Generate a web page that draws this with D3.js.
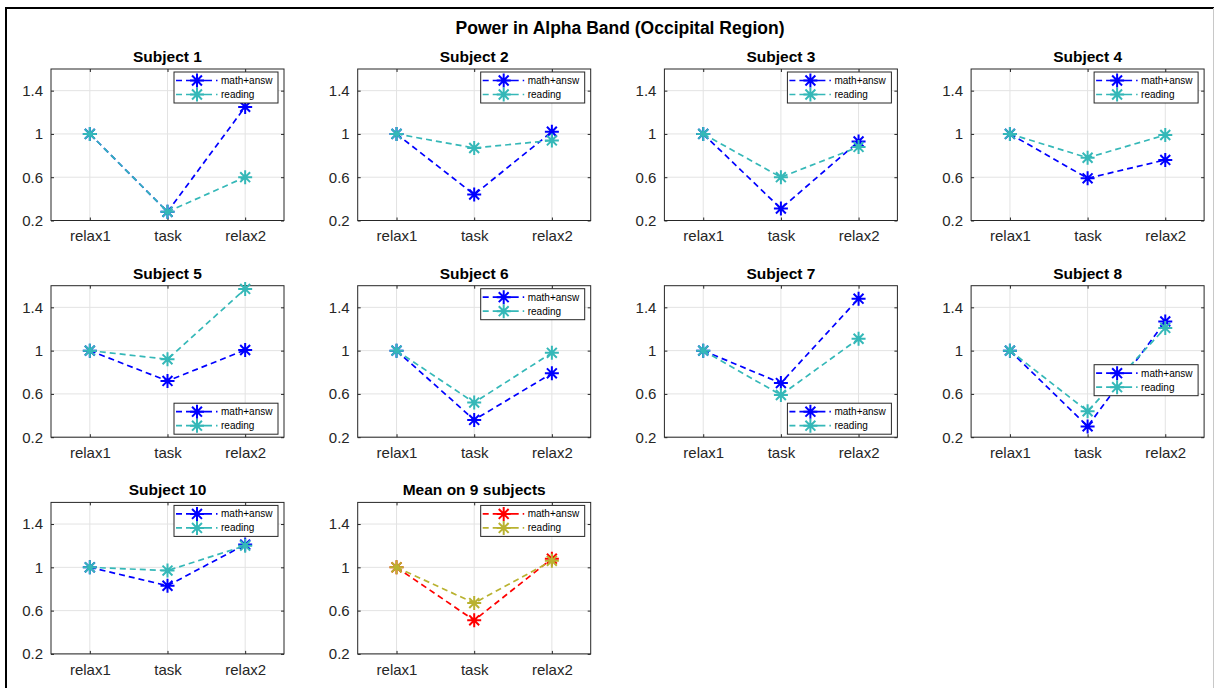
<!DOCTYPE html>
<html>
<head>
<meta charset="utf-8">
<script src="https://cdn.jsdelivr.net/npm/d3@7"></script>
<style>
  html, body { margin: 0; padding: 0; background: #fff; }
  svg { display: block; font-family: Arial, "Liberation Sans", Helvetica, sans-serif; }
</style>
</head>
<body>
<svg id="chart" width="1214" height="688"></svg>
<script>
// ---------------- data ----------------
const mainTitle = "Power in Alpha Band (Occipital Region)";
const categories = ["relax1", "task", "relax2"];
const yTicks = [0.2, 0.6, 1, 1.4];
const yDomain = [0.2, 1.6];
const panelTitles = ["Subject 1", "Subject 2", "Subject 3", "Subject 4", "Subject 5",
                     "Subject 6", "Subject 7", "Subject 8", "Subject 10", "Mean on 9 subjects"];
const seriesNames = ["math+answ", "reading"];
const mathAnsw = [
  [1, 0.28, 1.25],
  [1, 0.44, 1.02],
  [1, 0.31, 0.93],
  [1, 0.59, 0.76],
  [1, 0.72, 1.006],
  [1, 0.36, 0.79],
  [1, 0.70, 1.48],
  [1, 0.30, 1.27],
  [1, 0.83, 1.21],
  [1, 0.51, 1.08]
];
const readingVals = [
  [1, 0.28, 0.60],
  [1, 0.87, 0.94],
  [1, 0.60, 0.88],
  [1, 0.78, 0.99],
  [1, 0.92, 1.57],
  [1, 0.52, 0.98],
  [1, 0.59, 1.11],
  [1, 0.44, 1.21],
  [1, 0.97, 1.20],
  [1, 0.67, 1.06]
];

// ---------------- layout / style ----------------
const subjColors = ["#0000ff", "#35b8b8"];
const meanColors = ["#ff0000", "#b9b230"];
const legendLoc = ["ne","ne","ne","ne","se","ne","se","mid","ne","ne"];
const colLeft0 = 51, colStep = 306.7, axW = 233;
const rowTop0 = 69, rowStep = 216.7, axH = 151.5;
const nCols = 4;

const svg = d3.select("#chart");

// figure frame
svg.append("line").attr("x1", 6).attr("y1", 8).attr("x2", 6).attr("y2", 700)
  .attr("stroke", "#000").attr("stroke-width", 2);
svg.append("line").attr("x1", 5).attr("y1", 8).attr("x2", 1214).attr("y2", 8)
  .attr("stroke", "#000").attr("stroke-width", 2);
svg.append("line").attr("x1", 1213.5).attr("y1", 8).attr("x2", 1213.5).attr("y2", 700)
  .attr("stroke", "#c8c8c8").attr("stroke-width", 1);

svg.append("text").attr("x", 620).attr("y", 34).attr("text-anchor", "middle")
  .attr("font-size", 17.5).attr("font-weight", "bold").attr("fill", "#000").text(mainTitle);

function asterisk(g, cx, cy, r, color, sw) {
  const d = [];
  for (let k = 0; k < 4; k++) {
    const a = k * Math.PI / 4;
    const dx = r * Math.cos(a), dy = r * Math.sin(a);
    d.push(`M${cx - dx},${cy - dy}L${cx + dx},${cy + dy}`);
  }
  g.append("path").attr("d", d.join("")).attr("stroke", color)
    .attr("stroke-width", sw).attr("fill", "none");
}

panelTitles.forEach((title, i) => {
  const col = i % nCols, row = Math.floor(i / nCols);
  const left = colLeft0 + col * colStep;
  const top = rowTop0 + row * rowStep;
  const g = svg.append("g").attr("transform", `translate(${left},${top})`);

  const x = d3.scaleLinear().domain([0.5, 3.5]).range([0, axW]);
  const y = d3.scaleLinear().domain(yDomain).range([axH, 0]);
  const xPos = categories.map((c, k) => x(k + 1));

  // grid
  g.append("g").selectAll("line.gx").data(xPos).join("line")
    .attr("x1", d => d).attr("x2", d => d).attr("y1", 0).attr("y2", axH)
    .attr("stroke", "#e3e3e3").attr("stroke-width", 1);
  g.append("g").selectAll("line.gy").data(yTicks).join("line")
    .attr("x1", 0).attr("x2", axW).attr("y1", d => y(d)).attr("y2", d => y(d))
    .attr("stroke", "#e3e3e3").attr("stroke-width", 1);

  // axes (ticks inward, labels)
  const yAxis = d3.axisLeft(y).tickValues(yTicks).tickSize(-3).tickPadding(8)
    .tickFormat(d => String(d));
  const ya = g.append("g").call(yAxis);
  const yaR = g.append("g").attr("transform", `translate(${axW},0)`)
    .call(d3.axisRight(y).tickValues(yTicks).tickSize(-3).tickFormat(""));
  const xAxis = d3.axisBottom(x).tickValues([1, 2, 3]).tickSize(-3).tickPadding(10)
    .tickFormat(d => categories[d - 1]);
  const xa = g.append("g").attr("transform", `translate(0,${axH})`).call(xAxis);
  const xaT = g.append("g").call(d3.axisTop(x).tickValues([1, 2, 3]).tickSize(-3).tickFormat(""));
  [ya, yaR, xa, xaT].forEach(a => {
    a.select(".domain").remove();
    a.selectAll(".tick line").attr("stroke", "#262626");
    a.selectAll("text").attr("fill", "#262626").attr("font-size", 15)
      .attr("font-family", "Arial, 'Liberation Sans', sans-serif");
  });
  g.append("rect").attr("x", 0).attr("y", 0).attr("width", axW).attr("height", axH)
    .attr("fill", "none").attr("stroke", "#262626").attr("stroke-width", 1);

  // title
  g.append("text").attr("x", axW / 2).attr("y", -7).attr("text-anchor", "middle")
    .attr("font-size", 15.5).attr("font-weight", "bold").attr("fill", "#000").text(title);

  const colors = (i === panelTitles.length - 1) ? meanColors : subjColors;
  const series = [mathAnsw[i], readingVals[i]];
  const line = d3.line().x((d, k) => x(k + 1)).y(d => y(d));

  series.forEach((vals, s) => {
    g.append("path").attr("d", line(vals)).attr("fill", "none")
      .attr("stroke", colors[s]).attr("stroke-width", 1.7)
      .attr("stroke-dasharray", "6,4");
    vals.forEach((v, k) => asterisk(g, x(k + 1), y(v), 7, colors[s], 2));
  });

  // legend
  const lw = 104, lh = 31;
  let lx = axW - 6 - lw, ly = 3;
  if (legendLoc[i] === "se") ly = axH - 3 - lh;
  if (legendLoc[i] === "mid") ly = y(0.87);
  const lg = g.append("g").attr("transform", `translate(${lx},${ly})`);
  lg.append("rect").attr("width", lw).attr("height", lh).attr("fill", "#fff")
    .attr("stroke", "#262626").attr("stroke-width", 1);
  seriesNames.forEach((nm, s) => {
    const cy = 8.5 + s * 14;
    lg.append("line").attr("x1", 2).attr("x2", 44).attr("y1", cy).attr("y2", cy)
      .attr("stroke", colors[s]).attr("stroke-width", 1.7).attr("stroke-dasharray", "6,4,26,4,1.5,10");
    asterisk(lg, 23, cy, 7, colors[s], 2);
    lg.append("text").attr("x", 47).attr("y", cy + 3.6).attr("font-size", 10)
      .attr("fill", "#000").text(nm);
  });
});
</script>
</body>
</html>
